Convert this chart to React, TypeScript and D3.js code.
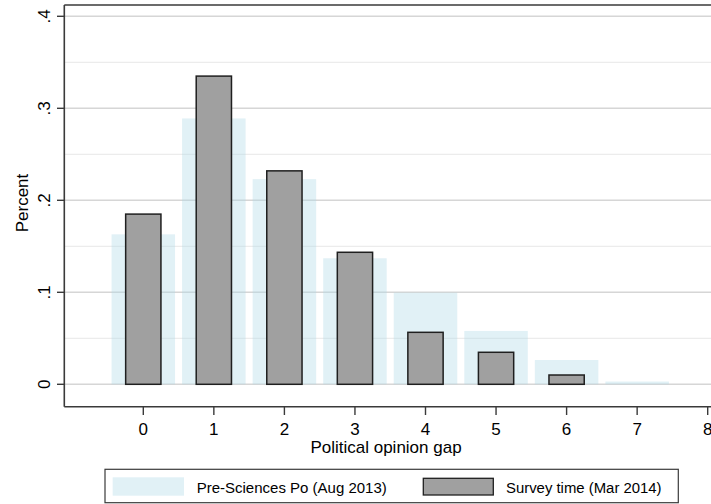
import React from "react";
import * as d3 from "d3";

const categories = [0, 1, 2, 3, 4, 5, 6, 7];
const preSciencesPo = [0.163, 0.289, 0.223, 0.137, 0.0996, 0.058, 0.0264, 0.003];
const surveyTime = [0.185, 0.335, 0.232, 0.1435, 0.0565, 0.0348, 0.0101];
const xTicks = [0, 1, 2, 3, 4, 5, 6, 7, 8];
const yTicks = [0, 0.1, 0.2, 0.3, 0.4];
const yTickLabels = ["0", ".1", ".2", ".3", ".4"];
const yMinor = [0.05, 0.15, 0.25, 0.35];

const W = 711;
const H = 504;
const FONT = "'Liberation Sans', Arial, Helvetica, sans-serif";

export default function App() {
  const left = 64.3;
  const top = 5;
  const bottom = 406.7;
  const right = 711;
  const x = d3.scaleLinear().domain([0, 8]).range([143.3, 707.7]);
  const y = d3.scaleLinear().domain([0, 0.4]).range([384.3, 16.3]);
  const unit = x(1) - x(0);
  const lightW = 0.9 * unit;
  const darkW = 0.5 * unit;

  return (
    <svg width={W} height={H} style={{ position: "absolute", left: 0, top: 0, background: "#fff" }}>
      <rect x={0} y={0} width={W} height={H} fill="#fff" />
      {/* grid */}
      {yMinor.map((v) => (
        <line key={"m" + v} x1={left} x2={right} y1={y(v)} y2={y(v)} stroke="#ececec" strokeWidth={1.2} />
      ))}
      {yTicks.map((v) => (
        <line key={"g" + v} x1={left} x2={right} y1={y(v)} y2={y(v)} stroke="#d6d6d6" strokeWidth={1.4} />
      ))}
      {/* light bars */}
      {categories.map((c, i) => (
        <rect
          key={"l" + c}
          x={x(c) - lightW / 2}
          y={y(preSciencesPo[i])}
          width={lightW}
          height={y(0) - y(preSciencesPo[i])}
          fill="#add8e6"
          fillOpacity={0.36}
        />
      ))}
      {/* dark bars */}
      {surveyTime.map((v, i) => (
        <rect
          key={"d" + i}
          x={x(categories[i]) - darkW / 2}
          y={y(v)}
          width={darkW}
          height={y(0) - y(v)}
          fill="#a0a0a0"
          stroke="#1f1f1f"
          strokeWidth={1.5}
        />
      ))}
      {/* frame */}
      <line x1={left} x2={right} y1={top} y2={top} stroke="#3a3a3a" strokeWidth={1.6} />
      <line x1={left} x2={left} y1={top} y2={bottom} stroke="#3a3a3a" strokeWidth={1.6} />
      <line x1={left} x2={right} y1={bottom} y2={bottom} stroke="#3a3a3a" strokeWidth={1.6} />
      {/* y ticks */}
      {yTicks.map((v, i) => (
        <g key={"yt" + v}>
          <line x1={57} x2={left} y1={y(v)} y2={y(v)} stroke="#3a3a3a" strokeWidth={1.4} />
          <text
            transform={`translate(49.5,${y(v)}) rotate(-90)`}
            textAnchor="middle"
            fontFamily={FONT}
            fontSize={17}
            fill="#000"
          >
            {yTickLabels[i]}
          </text>
        </g>
      ))}
      {/* x ticks */}
      {xTicks.map((v) => (
        <g key={"xt" + v}>
          <line x1={x(v)} x2={x(v)} y1={bottom} y2={415} stroke="#3a3a3a" strokeWidth={1.4} />
          <text x={x(v)} y={434.5} textAnchor="middle" fontFamily={FONT} fontSize={17} fill="#000">
            {v}
          </text>
        </g>
      ))}
      {/* axis titles */}
      <text
        transform={`translate(28,203) rotate(-90)`}
        textAnchor="middle"
        fontFamily={FONT}
        fontSize={17}
        fill="#000"
      >
        Percent
      </text>
      <text x={386} y={452.5} textAnchor="middle" fontFamily={FONT} fontSize={17} fill="#000">
        Political opinion gap
      </text>
      {/* legend */}
      <rect x={105} y={469.3} width={573.3} height={33.4} fill="#fff" stroke="#3a3a3a" strokeWidth={1.2} />
      <rect x={112.7} y={477.3} width={71.3} height={18.4} fill="#add8e6" fillOpacity={0.36} />
      <text x={196.7} y={492.5} fontFamily={FONT} fontSize={15} fill="#000">
        Pre-Sciences Po (Aug 2013)
      </text>
      <rect x={423.3} y={478.3} width={70} height={16.7} fill="#a0a0a0" stroke="#1f1f1f" strokeWidth={1.3} />
      <text x={506} y={492.5} fontFamily={FONT} fontSize={14.9} fill="#000">
        Survey time (Mar 2014)
      </text>
    </svg>
  );
}
